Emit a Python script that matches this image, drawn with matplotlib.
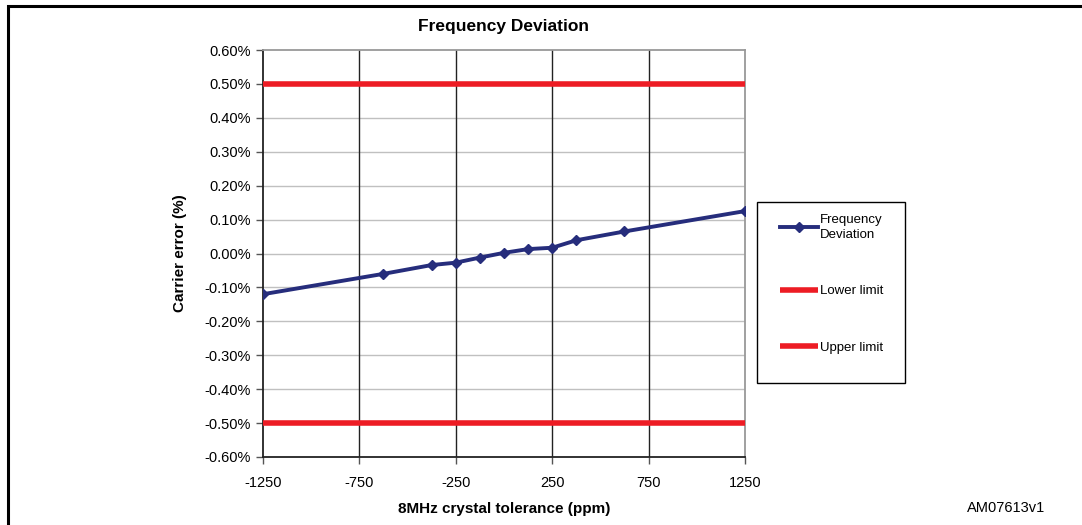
import numpy as np
import matplotlib.pyplot as plt
from matplotlib.patches import Rectangle

plt.rcParams['font.family'] = ['Liberation Sans', 'DejaVu Sans']
plt.rcParams['axes.unicode_minus'] = False

# crystal tolerance (ppm) and carrier error (%)
tolerance = [-1250, -625, -375, -250, -125, 0, 125, 250, 375, 625, 1250]
deviation = [-0.120, -0.060, -0.034, -0.027, -0.012, 0.002, 0.013, 0.017, 0.039, 0.065, 0.125]
limit_x = [-1250, 1250]
lower_limit = [-0.50, -0.50]
upper_limit = [0.50, 0.50]

y_ticks = [-0.6, -0.5, -0.4, -0.3, -0.2, -0.1, 0.0, 0.1, 0.2, 0.3, 0.4, 0.5, 0.6]
x_ticks = [-1250, -750, -250, 250, 750, 1250]

navy = '#262d7c'
red = '#ed1c24'

W, H = 1082, 525
fig = plt.figure(figsize=(W / 100, H / 100), dpi=100)

# outer frame of the figure box
fig.patches.append(Rectangle((7.5 / W, -0.01), 1.2, 1 - 5.5 / H + 0.01,
                             transform=fig.transFigure, fill=False,
                             edgecolor='black', linewidth=2.2))
# legend frame
fig.patches.append(Rectangle((757 / W, 1 - 383 / H), (905 - 757) / W, (383 - 202) / H,
                             transform=fig.transFigure, fill=False,
                             edgecolor='black', linewidth=1.0))

ax = fig.add_axes([263 / W, 1 - 457 / H, (745 - 263) / W, (457 - 50) / H])

ax.plot(tolerance, deviation, color=navy, linewidth=2.8, marker='D',
        markersize=5.5, label='Frequency\nDeviation', zorder=4)
ax.plot(limit_x, lower_limit, color=red, linewidth=4, label='Lower limit',
        solid_capstyle='butt', zorder=3)
ax.plot(limit_x, upper_limit, color=red, linewidth=4, label='Upper limit',
        solid_capstyle='butt', zorder=3)

ax.set_xlim(-1250, 1250)
ax.set_ylim(-0.6, 0.6)
ax.set_xticks(x_ticks)
ax.set_yticks(y_ticks)
ax.set_yticklabels([f'{v:.2f}%' for v in y_ticks])
ax.tick_params(labelsize=10.5, direction='out', length=5, width=1,
               color='#555555')
ax.tick_params(axis='y', pad=4)
ax.tick_params(axis='x', pad=9)

for v in y_ticks[1:-1]:
    ax.axhline(v, color='#c0c0c0', linewidth=1, zorder=1)
for v in x_ticks[1:-1]:
    ax.axvline(v, color='#222222', linewidth=1, zorder=1)

ax.spines['left'].set_color('#222222')
ax.spines['bottom'].set_color('#222222')
ax.spines['top'].set_color('#999999')
ax.spines['right'].set_color('#999999')
for s in ax.spines.values():
    s.set_linewidth(1.3)

ax.set_title('Frequency Deviation', fontsize=12.5, fontweight='bold', pad=14)
ax.set_xlabel('8MHz crystal tolerance (ppm)', fontsize=11, fontweight='bold', labelpad=8)
ax.set_ylabel('Carrier error (%)', fontsize=11, fontweight='bold', labelpad=12)

leg = ax.legend(loc='upper left', bbox_to_anchor=(780 / W, 1 - 214 / H),
                bbox_transform=fig.transFigure, frameon=False,
                fontsize=9.5, handlelength=2.9, handletextpad=0.1,
                labelspacing=3.35, borderpad=0, borderaxespad=0)
for t in leg.get_texts():
    t.set_linespacing(1.3)

fig.text(1045 / W, 1 - 508 / H, 'AM07613v1', fontsize=10.5, ha='right', va='center')

fig.savefig('out.png', dpi=100)
